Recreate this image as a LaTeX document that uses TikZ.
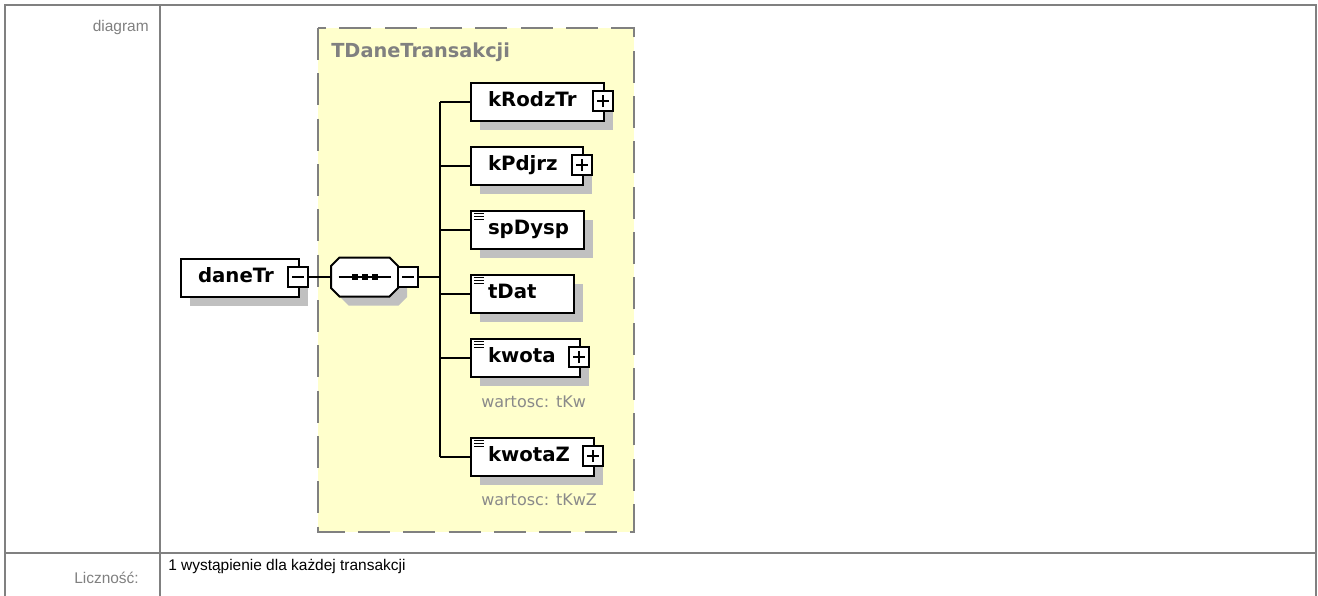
\documentclass[tikz,border=0pt]{standalone}
\usepackage{fontspec}
\setmainfont{Liberation Sans}
\newfontfamily\dvs{DejaVu Sans}
\usetikzlibrary{shadows}
\definecolor{tblgray}{HTML}{808080}
\definecolor{shgray}{HTML}{C0C0C0}
\definecolor{boxyellow}{HTML}{FFFFCC}
\definecolor{capgray}{HTML}{8A8A8A}
\begin{document}
\begin{tikzpicture}[x=0.75pt,y=-0.75pt,
  tbl/.style={draw=tblgray, line width=1.5pt},
  tbltext/.style={font=\fontsize{11.6}{14}\selectfont, inner sep=0pt},
  elem/.style={draw=black, line width=1.5pt, fill=white, anchor=north west,
    minimum height=28.5pt, inner xsep=12.75pt, inner ysep=0pt, align=left,
    font=\dvs\bfseries\fontsize{14.8}{16}\selectfont, text height=0.82em, text depth=0.08em,
    general shadow={fill=shgray, shadow xshift=6.75pt, shadow yshift=-6.75pt}},
  pmbox/.style={draw=black, line width=1.1pt, fill=white, minimum size=15pt, inner sep=0pt},
  minusbox/.style={pmbox, path picture={\draw[line width=1pt] (path picture bounding box.center) +(-4.5pt,0) -- +(4.5pt,0);}},
  plusbox/.style={pmbox, path picture={\draw[line width=1pt] (path picture bounding box.center) +(-4.5pt,0) -- +(4.5pt,0) (path picture bounding box.center) +(0,-4.5pt) -- +(0,4.5pt);}},
  seqhold/.style={minimum width=50.25pt, minimum height=29.25pt, inner sep=0pt},
  conn/.style={draw=black, line width=1.2pt},
  captext/.style={font=\dvs\fontsize{12}{14}\selectfont, text=capgray, inner sep=0pt, anchor=west},
  docline/.style={draw=black, line width=0.75pt}
]
\useasboundingbox (0,0) rectangle (1318,596);

% table
\draw[tbl] (5,596) -- (5,5) -- (1316,5) -- (1316,596);
\draw[tbl] (160,5) -- (160,596);
\draw[tbl] (5,553) -- (1316,553);
\node[tbltext, text=tblgray, anchor=east] (lbldiag) at (149,28) {diagram};
\node[tbltext, text=tblgray, anchor=east] (lbllicz) at (139,578) {Liczność:};
\node[tbltext, text=black, anchor=west] (vallicz) at (168,567) {1 wystąpienie dla każdej transakcji};

% complex type box
\draw[fill=boxyellow, draw=tblgray, line width=1.5pt, dash pattern=on 24pt off 10pt] (318,28) rectangle (634,532);
\node[font=\dvs\bfseries\fontsize{14.5}{16}\selectfont, text=tblgray, anchor=west, inner sep=0pt] (tname) at (331,52) {TDaneTransakcji};

% trunk coordinate
\coordinate (trunk) at (440,277);

% sequence compositor (octagon drawn around a named holder node)
\node[seqhold] (seq) at (364.5,277) {};
\begin{scope}[shift={(seq.center)}]
  \fill[shgray, shift={(9,9)}] (-33.5,-11) -- (-25,-19.5) -- (25,-19.5) -- (33.5,-11) -- (33.5,11) -- (25,19.5) -- (-25,19.5) -- (-33.5,11) -- cycle;
  \draw[fill=white, line width=1.5pt, line join=miter] (-33.5,-11) -- (-25,-19.5) -- (25,-19.5) -- (33.5,-11) -- (33.5,11) -- (25,19.5) -- (-25,19.5) -- (-33.5,11) -- cycle;
  \draw[line width=1.2pt] (-26,0) -- (26,0);
  \foreach \dx in {-9.5,0,10}
    \fill[black] (\dx-3,-2.7) rectangle (\dx+3,2.7);
\end{scope}

% nodes
\node[elem, text width=63pt] (daneTr) at (180,258) {daneTr};
\node[minusbox] (daneTrm) at (298,277) {};
\node[minusbox] (seqm) at (408,277) {};

\node[elem, text width=74.25pt] (kRodzTr) at (470,82) {kRodzTr};
\node[plusbox] (kRodzTrp) at (603,101) {};
\node[elem, text width=58.5pt] (kPdjrz) at (470,146) {kPdjrz};
\node[plusbox] (kPdjrzp) at (582,165) {};
\node[elem, text width=59.25pt] (spDysp) at (470,210) {spDysp};
\node[elem, text width=51.75pt] (tDat) at (470,274) {tDat};
\node[elem, text width=56.25pt] (kwota) at (470,338) {kwota};
\node[plusbox] (kwotap) at (579,357) {};
\node[elem, text width=66.75pt] (kwotaZ) at (470,437) {kwotaZ};
\node[plusbox] (kwotaZp) at (593,456) {};

\node[captext] (kwotacap) at (481,402) {wartosc: tKw};
\node[captext] (kwotaZcap) at (481,500) {wartosc: tKwZ};

% doc icons
\foreach \n in {spDysp,tDat,kwota,kwotaZ}
  \foreach \dy in {3.5,6.5,9.5}
    \draw[docline] ([xshift=3pt, yshift={-\dy*0.75pt}]\n.north west) -- ++(7.5pt,0);

% connectors
\draw[conn] (daneTrm.east) -- (seq.west);
\draw[conn] (seqm.east) -- (trunk);
\draw[conn] (trunk |- kRodzTr.west) -- (trunk |- kwotaZ.west);
\foreach \n in {kRodzTr,kPdjrz,spDysp,tDat,kwota,kwotaZ}
  \draw[conn] (trunk |- \n.west) -- (\n.west);
\end{tikzpicture}
\end{document}
